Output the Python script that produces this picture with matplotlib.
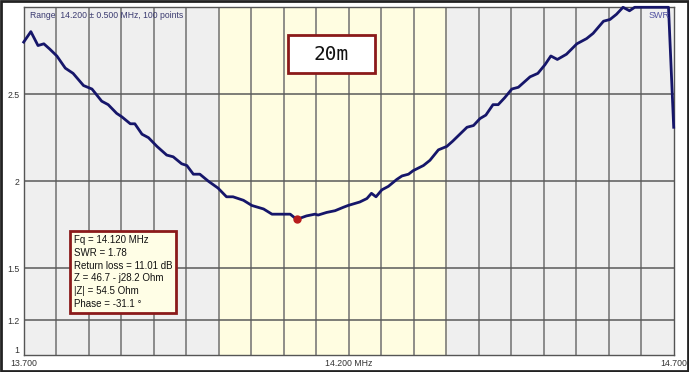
import numpy as np
import matplotlib
matplotlib.use("Agg")
import matplotlib.pyplot as plt
from matplotlib.patches import Rectangle

plt.rcParams['font.family'] = ['Liberation Sans', 'DejaVu Sans']

# SWR sweep (MHz, SWR); analyser clips at 3.0
freq = [13.700, 13.711, 13.722, 13.731, 13.740, 13.751, 13.764, 13.776, 13.792, 13.805,
        13.820, 13.830, 13.843, 13.851, 13.864, 13.871, 13.882, 13.892, 13.905, 13.920,
        13.930, 13.943, 13.951, 13.961, 13.971, 13.984, 13.999, 14.012, 14.022, 14.038,
        14.051, 14.069, 14.082, 14.089, 14.110, 14.120, 14.135, 14.148, 14.153, 14.166,
        14.179, 14.192, 14.199, 14.217, 14.228, 14.235, 14.242, 14.251, 14.261, 14.274,
        14.282, 14.292, 14.299, 14.315, 14.325, 14.338, 14.351, 14.360, 14.371, 14.382,
        14.392, 14.402, 14.411, 14.422, 14.430, 14.440, 14.451, 14.461, 14.479, 14.491,
        14.502, 14.511, 14.521, 14.535, 14.551, 14.566, 14.576, 14.592, 14.602, 14.612,
        14.622, 14.632, 14.640, 14.660, 14.680, 14.692, 14.700]
swr = [2.80, 2.86, 2.78, 2.79, 2.76, 2.72, 2.65, 2.62, 2.55, 2.53,
       2.46, 2.44, 2.39, 2.37, 2.33, 2.33, 2.27, 2.25, 2.20, 2.15,
       2.14, 2.10, 2.09, 2.04, 2.04, 2.00, 1.96, 1.91, 1.91, 1.89,
       1.86, 1.84, 1.81, 1.81, 1.81, 1.78, 1.80, 1.81, 1.805, 1.82,
       1.83, 1.85, 1.86, 1.88, 1.90, 1.93, 1.91, 1.95, 1.97, 2.01,
       2.03, 2.04, 2.06, 2.09, 2.12, 2.18, 2.20, 2.23, 2.27, 2.31,
       2.32, 2.36, 2.38, 2.44, 2.44, 2.48, 2.53, 2.54, 2.60, 2.62,
       2.67, 2.72, 2.70, 2.73, 2.79, 2.82, 2.85, 2.92, 2.93, 2.96,
       3.00, 2.98, 3.00, 3.00, 3.00, 3.00, 2.31]

band = (14.000, 14.350)
marker_f, marker_swr = 14.120, 1.78
yticks = [1, 1.2, 1.5, 2, 2.5]
ylabels = ['1', '1.2', '1.5', '2', '2.5']
xticks = [13.7, 14.2, 14.7]
xlabels = ['13.700', '14.200 MHz', '14.700']
info = ["Fq = 14.120 MHz", "SWR = 1.78", "Return loss = 11.01 dB",
        "Z = 46.7 - j28.2 Ohm", "|Z| = 54.5 Ohm", "Phase = -31.1 \u00b0"]

fig = plt.figure(figsize=(6.89, 3.72), dpi=100)
ax = fig.add_axes([23.7 / 689, 17 / 372, 650 / 689, 347.7 / 372])
ax.set_facecolor('#efefef')
ax.axvspan(band[0], band[1], color='#fffde1', zorder=0)

for x in np.arange(13.75, 14.70, 0.05):
    ax.axvline(x, color='#707070', lw=1.1, zorder=1)
for y in yticks[1:]:
    ax.axhline(y, color='#5a5a5a', lw=1.1, zorder=1)

ax.plot(freq, swr, color='#16166a', lw=2, zorder=3, clip_on=False)
ax.plot(marker_f, marker_swr, 'o', color='#b81c1c', ms=5, zorder=4)

ax.set_xlim(13.7, 14.7)
ax.set_ylim(1, 3)
ax.set_xticks(xticks)
ax.set_xticklabels(xlabels)
ax.set_yticks(yticks)
ax.set_yticklabels(ylabels)
ax.tick_params(length=0, labelsize=6.3, colors='#333333', pad=3)
ax.get_yticklabels()[0].set_va('bottom')
for s in ax.spines.values():
    s.set_color('#555555')
    s.set_linewidth(1)

ax.text(0.01, 0.99, "Range  14.200 \u00b1 0.500 MHz, 100 points", transform=ax.transAxes,
        fontsize=6.2, color='#3a3a70', va='top', ha='left')
ax.text(0.993, 0.99, "SWR", transform=ax.transAxes,
        fontsize=6.5, color='#5050a0', va='top', ha='right')

# "20m" label box
ax.add_patch(Rectangle((0.4066, 0.811), 0.1339, 0.109, transform=ax.transAxes,
                       fc='white', ec='#8b1a1a', lw=2, zorder=5))
ax.text(0.4735, 0.8656, "20m", transform=ax.transAxes, fontsize=14, family='DejaVu Sans Mono',
        ha='center', va='center', color='#111111', zorder=6)

ax.text(0.077, 0.345, "\n".join(info), transform=ax.transAxes, fontsize=7,
        ha='left', va='top', color='#111111', linespacing=1.35, zorder=5,
        bbox=dict(boxstyle='square,pad=0.4', fc='#fffee6', ec='#8b1a1a', lw=2))

fig.patches.append(Rectangle((0.001, 0.002), 0.997, 0.995, transform=fig.transFigure,
                             fill=False, ec='#222222', lw=2))

fig.savefig('out.png', dpi=100)
